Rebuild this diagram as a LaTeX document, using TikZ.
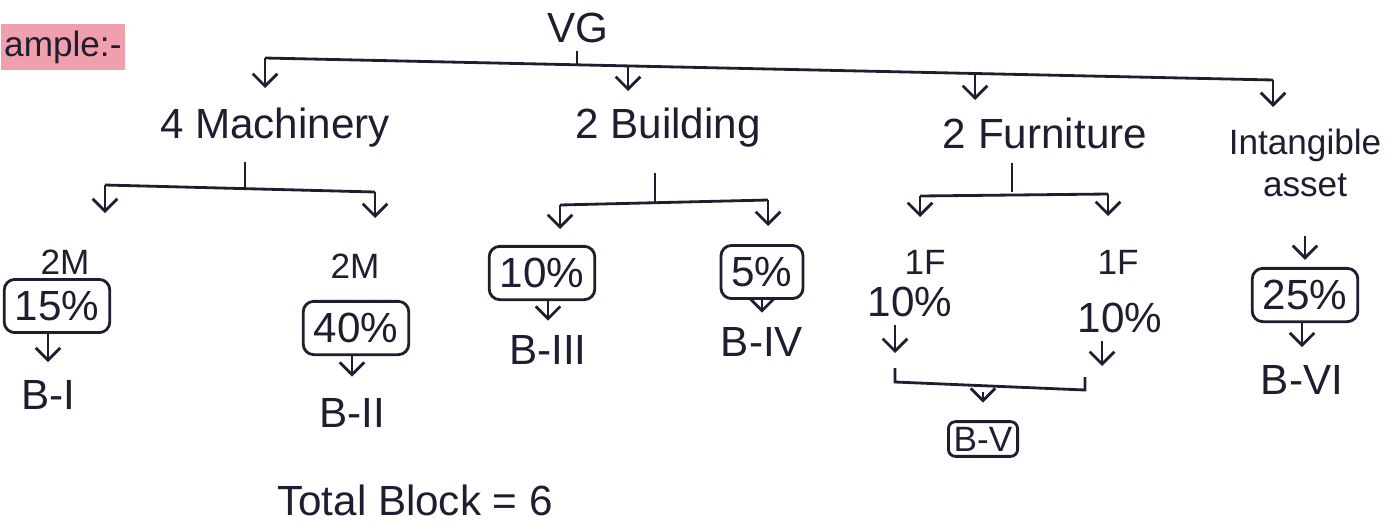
\documentclass[tikz,border=0pt]{standalone}
\usepackage{fontspec}
\usetikzlibrary{arrows.meta}
\setmainfont{Liberation Sans}
\definecolor{ink}{RGB}{30,30,48}
\definecolor{hilite}{RGB}{240,160,172}
\begin{document}
\begin{tikzpicture}[x=0.01cm, y=-0.01cm, color=ink]
    % Style definition for the rate boxes and labels
    \tikzset{ratebox/.style={rectangle, rounded corners=3pt, draw=ink, thick, inner xsep=3pt,
             minimum height=0.46cm, text centered, font=\large},
             lbl/.style={font=\large, inner sep=2pt},
             sml/.style={font=\normalsize, inner sep=2pt}}
    \tikzstyle{arrow} = [thick,->,>={Straight Barb[length=3.5pt,width=7pt]}]
    \tikzstyle{bar} = [thick]

    \useasboundingbox (0,0) rectangle (1395,530);

    % Heading
    \node (head) [sml, fill=hilite, anchor=west, minimum height=0.44cm, inner xsep=1pt] at (0,47) {ample:-};

    % Top level
    \node (vg) [lbl] at (578,28) {VG};
    \node (mach) [lbl] at (275,128) {4 Machinery};
    \node (bldg) [lbl] at (668,128) {2 Building};
    \node (furn) [lbl] at (1045,133) {2 Furniture};
    \node (intg) [sml, align=center] at (1305,163) {Intangible\\asset};

    \coordinate (tL) at (265,58);
    \coordinate (tM) at (577,64);
    \coordinate (t2) at (628,65);
    \coordinate (t3) at (975,73);
    \coordinate (tR) at (1273,80);
    \coordinate (t1a) at (265,88);
    \coordinate (t2a) at (628,91);
    \coordinate (t3a) at (975,100);
    \coordinate (t4a) at (1273,107);

    \draw [bar] (vg.south -| tM) -- (tM);
    \draw [bar] (tL) -- (tR);
    \draw [arrow] (tL) -- (t1a);
    \draw [arrow] (t2) -- (t2a);
    \draw [arrow] (t3) -- (t3a);
    \draw [arrow] (tR) -- (t4a);

    % Machinery branch
    \coordinate (mT) at (245,188);
    \coordinate (mL) at (105,185);
    \coordinate (mR) at (375,192);
    \coordinate (mLa) at (105,213);
    \coordinate (mRa) at (375,218);
    \draw [bar, shorten <=2pt] (mach.south -| mT) -- (mT);
    \draw [bar] (mL) -- (mR);
    \draw [arrow] (mL) -- (mLa);
    \draw [arrow] (mR) -- (mRa);

    \node (m1) [sml] at (65,262) {2M};
    \node (m2) [sml] at (355,266) {2M};
    \node (r15) [ratebox] at (57,306) {15\%};
    \node (r40) [ratebox] at (356,328) {40\%};
    \node (bI) [lbl] at (48,395) {B-I};
    \node (bII) [lbl] at (352,413) {B-II};
    \draw [arrow, shorten >=3pt] (r15.south -| bI.north) -- (bI.north);
    \draw [arrow, shorten >=4pt] (r40.south -| bII.north) -- (bII.north);

    % Building branch
    \coordinate (bT) at (655,202);
    \coordinate (bL) at (560,205);
    \coordinate (bR) at (768,200);
    \coordinate (bLa) at (560,229);
    \coordinate (bRa) at (768,226);
    \draw [bar, shorten <=5pt] (bldg.south -| bT) -- (bT);
    \draw [bar] (bL) -- (bR);
    \draw [arrow] (bL) -- (bLa);
    \draw [arrow] (bR) -- (bRa);

    \node (r10) [ratebox] at (542,273) {10\%};
    \node (r5) [ratebox] at (762,272) {5\%};
    \node (bIII) [lbl] at (548,350) {B-III};
    \node (bIV) [lbl] at (762,342) {B-IV};
    \draw [arrow, shorten >=2pt] (r10.south -| bIII.north) -- (bIII.north);
    \draw [arrow, shorten >=2pt] (r5.south) -- (bIV.north);

    % Furniture branch
    \coordinate (fT) at (1012,192);
    \coordinate (fL) at (920,196);
    \coordinate (fR) at (1108,194);
    \coordinate (fLa) at (920,217);
    \coordinate (fRa) at (1108,216);
    \draw [bar, shorten <=2pt] (furn.south -| fT) -- (fT);
    \draw [bar] (fL) -- (fR);
    \draw [arrow] (fL) -- (fLa);
    \draw [arrow] (fR) -- (fRa);

    \node (f1) [sml] at (925,262) {1F};
    \node (f2) [sml] at (1118,262) {1F};
    \node (p1) [lbl] at (910,302) {10\%};
    \node (p2) [lbl] at (1120,318) {10\%};

    \coordinate (aL) at (895,353);
    \coordinate (aR) at (1102,366);
    \coordinate (kL) at (895,368);
    \coordinate (kLb) at (895,382);
    \coordinate (kRb) at (1085,390);
    \coordinate (kR) at (1085,377);
    \coordinate (kM) at (983,392);
    \draw [arrow] (p1.south -| aL) -- (aL);
    \draw [arrow] (p2.south -| aR) -- (aR);
    \draw [bar] (kL) -- (kLb) -- (kRb) -- (kR);

    \node (bV) [ratebox, font=\normalsize, rounded corners=2pt, minimum height=0.27cm, inner sep=1.5pt] at (983,439) {B-V};
    \draw [arrow, shorten >=5pt] (kM) -- (bV.north);

    % Intangible asset branch
    \node (r25) [ratebox, minimum width=1.05cm] at (1305,295) {25\%};
    \node (bVI) [lbl] at (1302,380) {B-VI};
    \draw [arrow, shorten <=9pt, shorten >=2pt] (intg.south -| r25.north) -- (r25.north);
    \draw [arrow, shorten >=3pt] (r25.south -| bVI.north) -- (bVI.north);

    % Total
    \node (total) [lbl] at (415,500) {Total Block = 6};
\end{tikzpicture}
\end{document}
